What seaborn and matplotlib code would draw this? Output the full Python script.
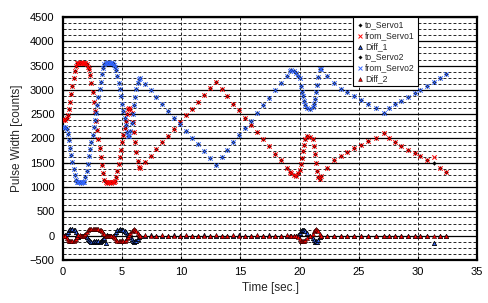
import matplotlib
matplotlib.use("Agg")
import matplotlib.pyplot as plt
import seaborn as sns
import pandas as pd
from matplotlib.ticker import MultipleLocator

# ---------------- data ----------------
time_s = [
    0.0, 0.1, 0.2, 0.3, 0.4, 0.5, 0.6, 0.7, 0.8, 0.9, 1.0, 1.1, 1.2, 1.3, 1.4, 1.5, 1.6, 1.7, 1.8, 1.9,
    2.0, 2.1, 2.2, 2.3, 2.4, 2.5, 2.6, 2.7, 2.8, 2.9, 3.0, 3.1, 3.2, 3.3, 3.4, 3.5, 3.6, 3.7, 3.8, 3.9,
    4.0, 4.1, 4.2, 4.3, 4.4, 4.5, 4.6, 4.7, 4.8, 4.9, 5.0, 5.1, 5.2, 5.3, 5.4, 5.5, 5.6, 5.7, 5.8, 5.9,
    6.0, 6.1, 6.2, 6.3, 6.4, 6.5,
    6.9, 7.4, 7.9, 8.4, 8.9, 9.4, 9.9, 10.4, 10.9, 11.4, 11.9, 12.4, 12.9,
    13.4, 13.9, 14.4, 14.9, 15.4, 15.9, 16.4, 16.9, 17.4, 17.9, 18.4, 18.9, 19.2,
    19.3, 19.5, 19.7, 19.9, 20.0, 20.1, 20.2, 20.3, 20.4, 20.5, 20.6, 20.85, 21.1, 21.2, 21.3, 21.4,
    21.5, 21.6, 21.7, 21.8,
    22.3, 22.9, 23.5, 24.0, 24.6, 25.2, 25.8, 26.5, 27.1, 27.6, 28.1, 28.6, 29.2, 29.8, 30.2, 30.8,
    31.4, 31.9, 32.4,
]

from_servo1 = [
    2380, 2400, 2390, 2420, 2480, 2600, 2760, 2920, 3080, 3240, 3390, 3500, 3550, 3560, 3555, 3565, 3550, 3560, 3545, 3550,
    3530, 3480, 3420, 3300, 3150, 2950, 2760, 2560, 2370, 2170, 1980, 1800, 1620, 1450, 1280, 1150, 1100, 1090, 1105, 1095,
    1100, 1090, 1105, 1100, 1120, 1200, 1330, 1470, 1620, 1770, 1920, 2070, 2220, 2370, 2510, 2600, 2630, 2600, 2520, 2340,
    2130, 1920, 1720, 1540, 1420, 1400,
    1510, 1650, 1790, 1930, 2060, 2200, 2340, 2480, 2610, 2750, 2890, 3030, 3165,
    3020, 2870, 2720, 2580, 2430, 2280, 2140, 1990, 1840, 1690, 1550, 1400, 1310,
    1280, 1240, 1220, 1290, 1360, 1470, 1600, 1740, 1870, 1990, 2060, 2040, 1990, 1850, 1680, 1500,
    1330, 1200, 1170, 1220,
    1400, 1560, 1640, 1730, 1800, 1870, 1940, 2010, 2110, 2010, 1920, 1840, 1770, 1700, 1630, 1560,
    1620, 1390, 1320,
]

to_servo1 = [
    2380, 2400, 2390, 2420, 2480, 2600, 2760, 2920, 3080, 3240, 3390, 3500, 3550, 3560, 3555, 3565, 3550, 3560, 3545, 3550,
    3530, 3480, 3420, 3300, 3150, 2950, 2760, 2560, 2370, 2170, 1980, 1800, 1620, 1450, 1280, 1150, 1100, 1090, 1105, 1095,
    1100, 1090, 1105, 1100, 1120, 1200, 1330, 1470, 1620, 1770, 1920, 2070, 2220, 2370, 2510, 2600, 2630, 2600, 2520, 2340,
    2130, 1920, 1720, 1540, 1420, 1400,
    1510, 1650, 1790, 1930, 2060, 2200, 2340, 2480, 2610, 2750, 2890, 3030, 3165,
    3020, 2870, 2720, 2580, 2430, 2280, 2140, 1990, 1840, 1690, 1550, 1400, 1310,
    1280, 1240, 1220, 1290, 1360, 1470, 1600, 1740, 1870, 1990, 2060, 2040, 1990, 1850, 1680, 1500,
    1330, 1200, 1170, 1220,
    1400, 1560, 1640, 1730, 1800, 1870, 1940, 2010, 2110, 2010, 1920, 1840, 1770, 1700, 1630, 1560,
    1490, 1390, 1320,
]

diff_1 = [
    0, 0, 10, 30, 80, 110, 130, 120, 130, 120, 110, 70, 20, -30, -10, 0, 0, 0, 0, 0,
    -20, -60, -90, -110, -120, -120, -110, -120, -110, -120, -110, -120, -100, -90, -70, -40, -160, 20, 0, 0,
    0, 0, 0, 0, 30, 80, 110, 120, 130, 120, 120, 110, 100, 70, 30, 10, 0, -20, -60, -100,
    -120, -110, -100, -60, -20, 0,
    0, 10, 0, -10, 0, 10, 0, 0, -10, 0, 10, 0, 0,
    0, -10, 0, 10, 0, 0, -10, 0, 10, 0, 0, -10, 0,
    0, 0, 0, 20, 60, 100, 120, 110, 120, 100, 60, 0, -40, -90, -120, -110,
    -120, -80, -30, 0,
    0, 0, 0, 0, 0, 0, 0, 0, 0, 0, 0, 0, 0, 0, 0, 0,
    -150, 0, 0,
]

from_servo2 = [
    2230, 2220, 2240, 2190, 2100, 1960, 1810, 1660, 1510, 1370, 1240, 1150, 1105, 1095, 1105, 1090, 1100, 1095, 1110, 1200,
    1330, 1480, 1630, 1780, 1930, 2080, 2230, 2380, 2530, 2690, 2850, 3010, 3170, 3320, 3450, 3530, 3560, 3555, 3565, 3550,
    3560, 3555, 3545, 3520, 3480, 3400, 3280, 3150, 3010, 2870, 2720, 2570, 2420, 2270, 2140, 2060, 2050, 2150, 2320, 2500,
    2680, 2860, 3020, 3150, 3230, 3240,
    3130, 2990, 2850, 2710, 2570, 2430, 2290, 2150, 2010, 1880, 1740, 1600, 1460,
    1610, 1760, 1920, 2070, 2220, 2370, 2530, 2680, 2830, 2990, 3140, 3290, 3380,
    3410, 3380, 3340, 3280, 3240, 3080, 2960, 2870, 2780, 2680, 2630, 2610, 2640, 2700, 2820, 2950,
    3100, 3270, 3440, 3430,
    3280, 3140, 3020, 2950, 2870, 2800, 2700, 2630, 2530, 2620, 2720, 2770, 2860, 2930, 3000, 3070,
    3170, 3240, 3330,
]

to_servo2 = [
    2230, 2220, 2240, 2190, 2100, 1960, 1810, 1660, 1510, 1370, 1240, 1150, 1105, 1095, 1105, 1090, 1100, 1095, 1110, 1200,
    1330, 1480, 1630, 1780, 1930, 2080, 2230, 2380, 2530, 2690, 2850, 3010, 3170, 3320, 3450, 3530, 3560, 3555, 3565, 3550,
    3560, 3555, 3545, 3520, 3480, 3400, 3280, 3150, 3010, 2870, 2720, 2570, 2420, 2270, 2140, 2060, 2050, 2150, 2320, 2500,
    2680, 2860, 3020, 3150, 3230, 3240,
    3130, 2990, 2850, 2710, 2570, 2430, 2290, 2150, 2010, 1880, 1740, 1600, 1460,
    1610, 1760, 1920, 2070, 2220, 2370, 2530, 2680, 2830, 2990, 3140, 3290, 3380,
    3410, 3380, 3340, 3280, 3240, 3080, 2960, 2870, 2780, 2680, 2630, 2610, 2640, 2700, 2820, 2950,
    3100, 3270, 3440, 3430,
    3280, 3140, 3020, 2950, 2870, 2800, 2700, 2630, 2530, 2620, 2720, 2770, 2860, 2930, 3000, 3070,
    3170, 3240, 3330,
]

diff_2 = [
    0, 0, -10, -40, -80, -100, -110, -100, -110, -100, -90, -60, -20, 20, 10, 0, 0, 0, 10, 40,
    80, 110, 130, 140, 130, 140, 130, 140, 130, 140, 130, 120, 110, 90, 60, 30, 0, -10, 0, 0,
    0, 0, 0, -20, -50, -80, -100, -110, -100, -110, -100, -110, -100, -80, -50, -20, 20, 60, 100, 120,
    130, 120, 100, 60, 20, 0,
    10, 0, 0, 10, -10, 0, 0, 10, 0, -10, 0, 0, 10,
    0, 0, 10, -10, 0, 0, 10, 0, -10, 0, 0, 10, 0,
    0, 0, -10, -30, -60, -100, -110, -100, -110, -90, -50, 0, 40, 90, 120, 130,
    120, 100, 40, 0,
    0, 0, 0, 0, 0, 0, 0, 0, 0, 0, 0, 0, 0, 0, 0, 0,
    0, 0, 0,
]

x_ticks = [0, 5, 10, 15, 20, 25, 30, 35]
y_ticks = [-500, 0, 500, 1000, 1500, 2000, 2500, 3000, 3500, 4000, 4500]

# ---------------- styling ----------------
sns.set_style("white")
plt.rcParams["font.family"] = ["Liberation Sans", "DejaVu Sans"]

df = pd.DataFrame({
    "t": time_s,
    "to_Servo1": to_servo1, "from_Servo1": from_servo1, "Diff_1": diff_1,
    "to_Servo2": to_servo2, "from_Servo2": from_servo2, "Diff_2": diff_2,
})

fig = plt.figure(figsize=(4.88, 3.03), dpi=100)
ax = fig.add_axes([63 / 488, 1 - 260 / 303, (477 - 63) / 488, (260 - 17) / 303])

ax.set_xlim(0, 35)
ax.set_ylim(-500, 4500)
ax.yaxis.set_minor_locator(MultipleLocator(125))
ax.set_xticks(x_ticks)
ax.set_yticks(y_ticks)
ax.grid(False)
for yv in range(-500, 4501, 125):
    if yv % 500 == 0:
        ax.axhline(yv, color="black", lw=0.9, zorder=0.5)
    else:
        ax.axhline(yv, color="black", lw=0.6, ls=(0, (3.5, 2.5)), zorder=0.5)
for xv in x_ticks[1:-1]:
    ax.axvline(xv, color="black", lw=0.6, ls=(0, (3.5, 2.5)), zorder=0.5)

blue = "#3366ff"
red = "#ff0000"

sns.scatterplot(data=df, x="t", y="to_Servo1", ax=ax, marker="D", s=4, color="black",
                edgecolor="black", linewidth=0.2, label="to_Servo1", zorder=3)
sns.scatterplot(data=df, x="t", y="from_Servo1", ax=ax, marker="x", s=10, color=red,
                linewidth=0.7, label="from_Servo1", zorder=3)
sns.scatterplot(data=df, x="t", y="Diff_1", ax=ax, marker="^", s=9, color=blue,
                edgecolor="black", linewidth=0.6, label="Diff_1", zorder=3)
sns.scatterplot(data=df, x="t", y="to_Servo2", ax=ax, marker="D", s=4, color="black",
                edgecolor="black", linewidth=0.2, label="to_Servo2", zorder=3)
sns.scatterplot(data=df, x="t", y="from_Servo2", ax=ax, marker="x", s=10, color=blue,
                linewidth=0.7, label="from_Servo2", zorder=3)
sns.scatterplot(data=df, x="t", y="Diff_2", ax=ax, marker="^", s=9, color=red,
                edgecolor="#200000", linewidth=0.4, label="Diff_2", zorder=3)

for sp in ax.spines.values():
    sp.set_visible(True)
    sp.set_color("black")
    sp.set_linewidth(1.6)

ax.tick_params(axis="both", which="major", direction="in", length=3, width=0.8,
               labelsize=8, colors="black", pad=6)
ax.tick_params(axis="y", which="minor", direction="in", length=2, width=0.6, left=True)
ax.tick_params(axis="y", which="major", left=True)
ax.tick_params(axis="x", which="major", bottom=True, pad=5)

ax.set_xlabel("Time [sec.]", fontsize=8.5, labelpad=4)
ax.set_ylabel("Pulse Width [counts]", fontsize=8.5, labelpad=5)

leg = ax.legend(loc="upper left", bbox_to_anchor=(0.70, 1.0), fontsize=6.2,
                frameon=True, fancybox=False, shadow=False, borderpad=0.35,
                labelspacing=0.22, handletextpad=0.2, handlelength=0.9,
                borderaxespad=0.0, markerscale=0.9)
leg.get_frame().set_edgecolor("black")
leg.get_frame().set_linewidth(0.8)
leg.get_frame().set_alpha(1.0)
leg.set_zorder(10)

fig.savefig("out.png", dpi=100)
